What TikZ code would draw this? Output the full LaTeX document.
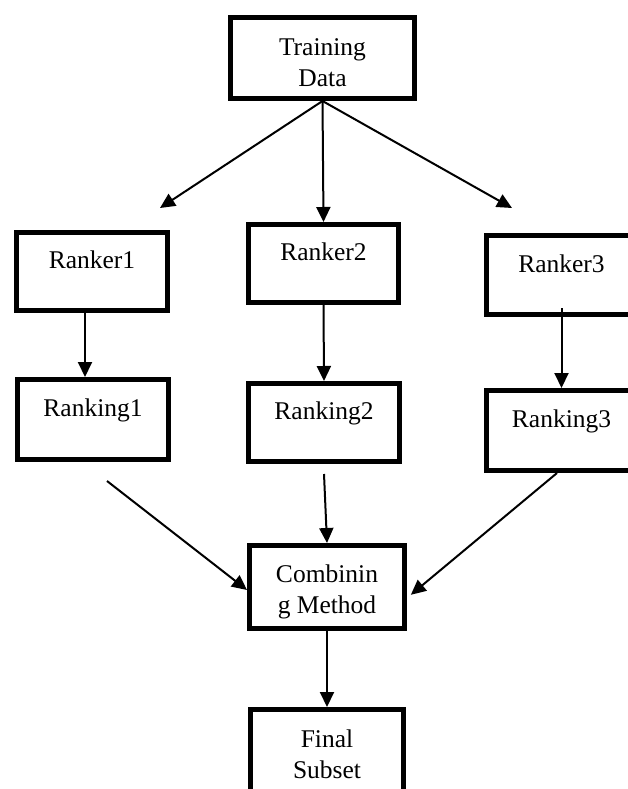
\documentclass[tikz,border=0pt]{standalone}
\usepackage{fontspec}
\setmainfont{Liberation Serif}
\usetikzlibrary{arrows.meta}

\begin{document}
\begin{tikzpicture}[x=1pt,y=-1pt,
  box/.style={draw, line width=5pt, inner sep=0pt, font=\fontsize{25.5}{31}\selectfont},
  upper/.style={text height=18pt, text depth=24pt},
  arr/.style={line width=2pt, -{Triangle[length=15pt,width=14pt]}}]
\clip (0,0) rectangle (628,789);
% top
\node[box, align=center, minimum width=184pt, minimum height=81pt] (train) at (322.5,58) {\rule{0pt}{26pt}Training\\Data};
% rankers
\node[box, upper, minimum width=151pt, minimum height=78pt] (ranker1) at (92,271.5) {Ranker1};
\node[box, upper, minimum width=150pt, minimum height=78pt] (ranker2) at (323.5,263.5) {Ranker2};
\node[box, upper, minimum width=150pt, minimum height=79pt] (ranker3) at (561.5,275) {Ranker3};
% rankings
\node[box, upper, minimum width=151pt, minimum height=80pt] (ranking1) at (93,419.5) {Ranking1};
\node[box, upper, minimum width=151pt, minimum height=78pt] (ranking2) at (324,422.5) {Ranking2};
\node[box, upper, minimum width=150pt, minimum height=80pt] (ranking3) at (561.5,430.5) {Ranking3};
% bottom
\node[box, align=center, minimum width=155pt, minimum height=83pt] (combine) at (327,587) {\rule{0pt}{28pt}Combinin\\g Method};
\node[box, align=center, minimum width=153pt, minimum height=90pt] (final) at (327,754.5) {Final\\Subset};
% free arrow ends
\coordinate (tip1) at (160,208);
\coordinate (tip3) at (512,208);
\coordinate (from1) at (107,481);
\coordinate (from2) at (324,474);
% arrows
\draw[arr] (train.south) -- (tip1);
\draw[arr] (train.south) -- (ranker2.north);
\draw[arr] (train.south) -- (tip3);
\draw[arr] ([xshift=-7pt]ranker1.south) -- ([xshift=-8pt]ranking1.north);
\draw[arr] (ranker2.south) -- (ranking2.north);
\draw[arr] ([yshift=9pt]ranker3.south) -- (ranking3.north);
\draw[arr] (from1) -- ([yshift=-3pt]combine.west);
\draw[arr] (from2) -- (combine.north);
\draw[arr, shorten >=5pt] ([xshift=-4.5pt]ranking3.south) -- ([yshift=-11pt]combine.east);
\draw[arr] (combine.south) -- (final.north);
\end{tikzpicture}
\end{document}
